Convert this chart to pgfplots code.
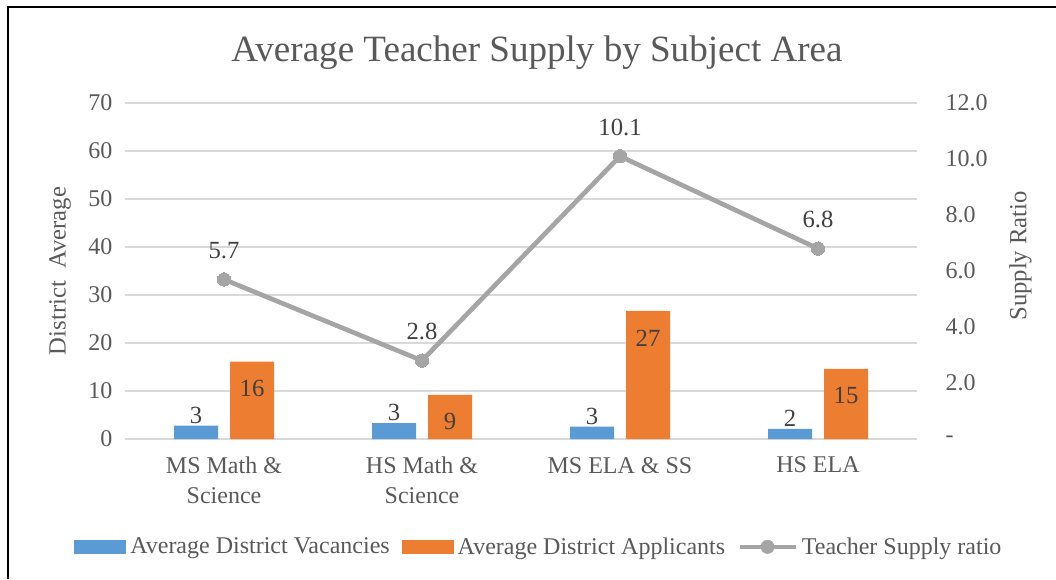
\documentclass[border=0pt]{standalone}
\usepackage{pgfplots}
\pgfplotsset{compat=1.18}
\usepackage{fontspec}
\setmainfont{Liberation Serif}
\definecolor{cblue}{HTML}{5B9BD5}
\definecolor{corange}{HTML}{ED7D31}
\definecolor{cgray}{HTML}{A5A5A5}
\definecolor{ctext}{HTML}{595959}
\definecolor{clabel}{HTML}{404040}
\definecolor{cgrid}{HTML}{D9D9D9}
\begin{document}
\begin{tikzpicture}
\useasboundingbox (0,0) rectangle (792pt,434.25pt);
% frame
\draw[black, line width=1.6pt] (6pt,0) -- (6pt,429pt) -- (792pt,429pt);
% title
\node[text=ctext, font=\fontsize{27.8}{32}\selectfont] at (402.75pt,395pt) {Average Teacher Supply by Subject Area};
\begin{axis}[
  at={(93.75pt,105pt)}, anchor=south west,
  width=594pt, height=252pt, scale only axis,
  xmin=-0.5, xmax=3.5, ymin=0, ymax=70,
  xtick={0,1,2,3},
  xticklabels={{MS Math \&\\Science},{HS Math \&\\Science},{MS ELA \& SS},{HS ELA}},
  xticklabel style={align=center, text=ctext, font=\fontsize{18}{22}\selectfont, yshift=-10pt},
  ytick={0,10,...,70},
  yticklabel style={text=ctext, font=\fontsize{18}{21}\selectfont, xshift=-6pt},
  /pgf/number format/assume math mode=true,
  axis line style={draw=none},
  x axis line style={draw=cgrid, line width=0.9pt},
  axis x line*=bottom,
  axis y line*=left,
  major tick length=0pt,
  ymajorgrids, grid style={cgrid, line width=0.9pt},
  ylabel={District\ \ Average},
  ylabel style={at={(axis description cs:-0.082,0.5)}, anchor=center, text=ctext, font=\fontsize{18.5}{21}\selectfont},
  legend style={at={(axis description cs:0.523,-0.321)}, anchor=center, draw=none, legend columns=-1, font=\fontsize{18}{21}\selectfont, text=ctext, /tikz/every even column/.append style={column sep=7pt}, /tikz/every odd column/.append style={column sep=1pt}},
  legend image code/.code={\fill[#1] (-4pt,-5.25pt) rectangle (35pt,5.25pt);},
  bar width=33pt,
]
\addplot[ybar, fill=cblue, draw=none, bar shift=-21pt,
  nodes near coords, every node near coord/.append style={text=clabel, font=\fontsize{18.5}{21}\selectfont, xshift=-21pt, yshift=-2pt},
  nodes near coords style={/pgf/number format/.cd, fixed, precision=0, assume math mode=true}]
  coordinates {(0,2.8) (1,3.3) (2,2.6) (3,2.1)};
\addlegendentry{Average District Vacancies}
\addplot[ybar, fill=corange, draw=none, bar shift=21pt,
  nodes near coords, every node near coord/.append style={text=clabel, font=\fontsize{18.5}{21}\selectfont, anchor=center, xshift=21pt, yshift=-20.25pt},
  nodes near coords style={/pgf/number format/.cd, fixed, precision=0, assume math mode=true}]
  coordinates {(0,16.1) (1,9.2) (2,26.7) (3,14.6)};
\addlegendentry{Average District Applicants}
\addlegendimage{legend image code/.code={\draw[cgray, line width=3.5pt] (-4pt,0pt) -- (38pt,0pt); \fill[cgray] (17pt,0pt) circle (5pt);}}
\addlegendentry{Teacher Supply ratio}
\end{axis}
\begin{axis}[
  at={(93.75pt,105pt)}, anchor=south west,
  width=594pt, height=252pt, scale only axis,
  xmin=-0.5, xmax=3.5, ymin=0, ymax=12,
  axis x line=none,
  axis y line*=right,
  axis line style={draw=none},
  major tick length=0pt,
  ytick={0,2,...,12},
  yticklabels={-,2.0,4.0,6.0,8.0,10.0,12.0},
  yticklabel style={text=ctext, font=\fontsize{18}{21}\selectfont, anchor=west, xshift=18pt},
  /pgf/number format/assume math mode=true,
  ylabel={Supply Ratio},
  ylabel style={at={(axis description cs:1.1306,0.545)}, anchor=center, text=ctext, font=\fontsize{18.5}{21}\selectfont},
]
\addplot[cgray, line width=3.5pt, mark=*, mark size=5pt, mark options={fill=cgray, draw=cgray, line width=0pt},
  nodes near coords, every node near coord/.append style={text=clabel, font=\fontsize{18.5}{21}\selectfont, anchor=center, yshift=21.75pt},
  nodes near coords style={/pgf/number format/.cd, fixed, fixed zerofill, precision=1, assume math mode=true}]
  coordinates {(0,5.7) (1,2.8) (2,10.1) (3,6.8)};
\end{axis}
\end{tikzpicture}
\end{document}
